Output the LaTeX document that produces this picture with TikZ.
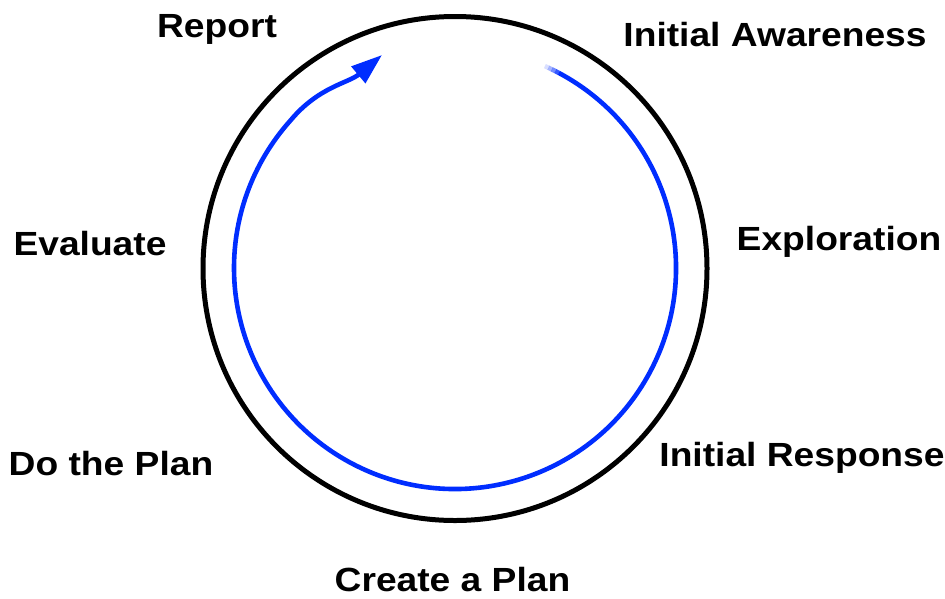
\documentclass[tikz,border=0pt]{standalone}
\usepackage{fontspec}
\setmainfont{Liberation Sans}[FakeStretch=1.11]
\usetikzlibrary{arrows.meta,calc}
\definecolor{cycblue}{RGB}{0,45,255}
\begin{document}
\begin{tikzpicture}[x=1pt,y=1pt,
  lbl/.style={anchor=base,inner sep=0pt,font=\bfseries\fontsize{33.5}{40}\selectfont},
  ring/.style={draw=black,line width=5pt},
  flow/.style={draw=cycblue,line width=4.6pt}]
\useasboundingbox (0,0) rectangle (945,-598);
\fill[white] (0,0) rectangle (945,-598);
% outer ring
\coordinate (c) at (455,-268.5);
\draw[ring] (c) circle[radius=252];
% blue cycle
\coordinate (bc) at (455,-268);
\foreach \a/\o in {66/0.15,65/0.35,64/0.55,63/0.8}{
  \draw[flow,draw opacity=\o] ($(bc)+(\a:221)$) arc[start angle=\a,end angle=\a-1.05,radius=221];
}
\coordinate (s) at ($(bc)+(62:221)$);
\coordinate (tip) at (382,-55);
\draw[flow,-{Triangle[length=31pt,width=21pt]}] (s) arc[start angle=62,end angle=-222,radius=221]
   to[out=50,in=-140] (tip);
% labels
\node[lbl] (report) at (217,-37) {Report};
\node[lbl] (aware) at (775,-46.7) {Initial Awareness};
\node[lbl] (explore) at (839,-250) {Exploration};
\node[lbl] (eval) at (90,-255) {Evaluate};
\node[lbl] (doplan) at (111,-475) {Do the Plan};
\node[lbl] (resp) at (802,-466.7) {Initial Response};
\node[lbl] (create) at (452.5,-591) {Create a Plan};
\end{tikzpicture}
\end{document}
